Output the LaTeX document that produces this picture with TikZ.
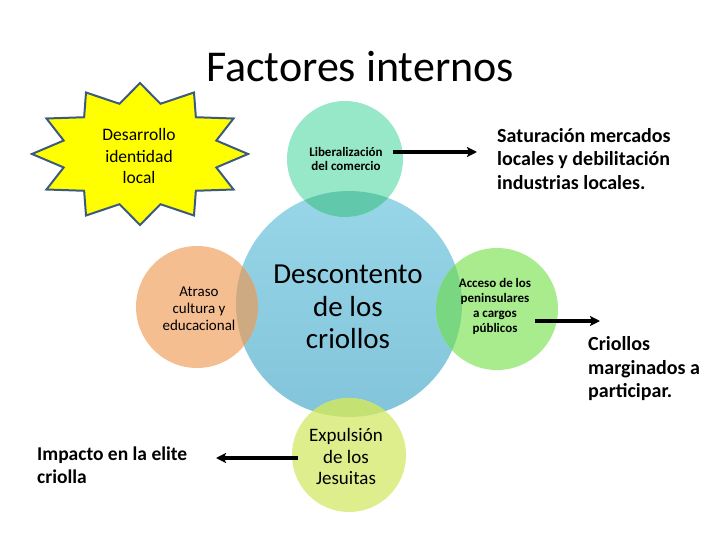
\documentclass[tikz,border=0pt]{standalone}
\usepackage{fontspec}
\setmainfont{Carlito}
\usetikzlibrary{arrows.meta}
\definecolor{blueT}{RGB}{152,214,232}
\definecolor{blueB}{RGB}{130,196,218}
\definecolor{mint}{RGB}{150,232,200}
\definecolor{tealov}{RGB}{98,200,172}
\definecolor{peach}{RGB}{245,190,145}
\definecolor{peachov}{RGB}{205,170,130}
\definecolor{lgreen}{RGB}{168,236,142}
\definecolor{lgreenov}{RGB}{120,215,128}
\definecolor{lime}{RGB}{222,238,140}
\definecolor{limeov}{RGB}{196,226,116}
\definecolor{starfill}{RGB}{255,255,0}
\definecolor{starline}{RGB}{60,90,128}
\begin{document}
\begin{tikzpicture}[x=1pt,y=-1pt,
  ring/.style={circle, inner sep=0pt, draw=none},
  lbl/.style={align=center, text=black, inner sep=0pt},
  side/.style={align=left, text=black, inner sep=0pt, anchor=west},
  arr/.style={line width=3.2pt, -{Stealth[length=10pt,width=10pt,inset=2pt]}},
  starshape/.style={draw=starline, line width=2pt, fill=starfill, line join=miter}]
\useasboundingbox[fill=white] (0,0) rectangle (720,540);

% title
\node[anchor=base, inner sep=0pt, font=\fontsize{44}{50}\selectfont] (title) at (360,82) {Factores internos};

% star
\draw[starshape, shift={(140,154)}] (90:108 and 71)
  \foreach \k in {0,...,11} { -- ({105+30*\k}:79 and 52) -- ({120+30*\k}:108 and 71) } -- cycle;
\node[lbl, font=\fontsize{17.5}{21.7}\selectfont] (tstar) at (139,156) {Desarrollo\\identidad\\local};

% circles
\node[ring, minimum size=226pt, top color=blueT, bottom color=blueB] (cblue) at (349,304) {};
\node[ring, minimum size=116pt, fill=mint] (ctop) at (345,159) {};
\node[ring, minimum size=122pt, fill=peach] (cleft) at (197,307) {};
\node[ring, minimum size=122pt, fill=lgreen] (cright) at (497,309) {};
\node[ring, minimum size=114pt, fill=lime] (cbot) at (349,455) {};

% overlaps
\begin{scope}
  \clip (cblue.center) circle (113pt);
  \fill[tealov] (ctop.center) circle (58pt);
  \fill[peachov] (cleft.center) circle (61pt);
  \fill[lgreenov] (cright.center) circle (61pt);
  \fill[limeov] (cbot.center) circle (57pt);
\end{scope}

% circle texts
\node[lbl, font=\fontsize{13}{14}\selectfont\bfseries] (tlib) at (346,159) {Liberalización\\del comercio};
\node[lbl, font=\fontsize{29}{32.5}\selectfont] (tdesc) at (348,307) {Descontento\\de los\\criollos};
\node[lbl, font=\fontsize{15}{17}\selectfont] (tatr) at (199,309) {Atraso\\cultura y\\educacional};
\node[lbl, font=\fontsize{13}{15}\selectfont\bfseries] (tacc) at (495,306.5) {Acceso de los\\peninsulares\\a cargos\\públicos};
\node[lbl, font=\fontsize{19}{21.5}\selectfont] (texp) at (346,456.5) {Expulsión\\de los\\Jesuitas};

% side texts
\node[side, font=\fontsize{20}{23.5}\selectfont\bfseries] (tsat) at (497,159) {Saturación mercados\\locales y debilitación\\industrias locales.};
\node[side, font=\fontsize{20}{23.5}\selectfont\bfseries] (tcri) at (588,369) {Criollos\\marginados a\\participar.};
\node[side, font=\fontsize{19.5}{23.5}\selectfont\bfseries] (timp) at (37,465) {Impacto en la elite\\criolla};

% arrows
\coordinate (a1s) at (393,152);
\coordinate (a1e) at (477,152);
\coordinate (a2s) at (535,321);
\coordinate (a2e) at (600,321);
\coordinate (a3s) at (298,458);
\coordinate (a3e) at (216,458);
\draw[arr] (a1s) -- (a1e);
\draw[arr] (a2s) -- (a2e);
\draw[arr] (a3s) -- (a3e);
\end{tikzpicture}
\end{document}
